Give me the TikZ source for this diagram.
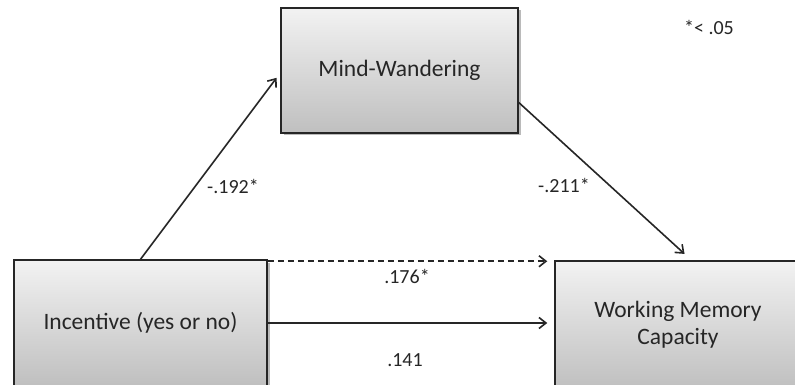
\documentclass[tikz,border=0pt]{standalone}
\usepackage{fontspec}
\setmainfont{Carlito}
\usetikzlibrary{arrows.meta,shadows}
\tikzset{
  box/.style={draw=black!85, line width=1.5pt, top color=gray!10, bottom color=gray!50,
    drop shadow={shadow xshift=2.5pt, shadow yshift=-2.5pt, opacity=0.45, fill=black!60},
    inner sep=0pt, align=center, text=black!85, font=\fontsize{23.5}{27}\selectfont},
  arr/.style={line width=1.6pt, draw=black!85, -{Straight Barb[length=7pt,width=11pt,line width=1.6pt]}},
  lab/.style={text=black!85, font=\fontsize{20}{24}\selectfont, inner sep=0pt}
}
\begin{document}
\begin{tikzpicture}[x=1pt,y=-1pt]
\clip (0,0) rectangle (795,385);
\fill[white] (0,0) rectangle (795,385);
\node[box, minimum width=237pt, minimum height=125pt] (mw) at (399.5,70.5) {Mind-Wandering};
\node[box, minimum width=253pt, minimum height=126pt] (inc) at (140.5,323) {Incentive (yes or no)};
\node[box, minimum width=246pt, minimum height=128pt] (wmc) at (678,325) {Working Memory\\Capacity};
\draw[arr, shorten >=6pt] (inc.north) -- ([yshift=-2.5pt]mw.west);
\draw[arr, shorten >=2pt] ([yshift=-32pt]mw.east) -- ([xshift=8pt,yshift=5pt]wmc.north);
\draw[arr, dash pattern=on 6pt off 4pt, shorten >=7pt] ([yshift=-2pt]inc.north east) -- ([yshift=-2pt]inc.north east -| wmc.west);
\draw[arr, shorten >=7pt] (inc.east) -- (inc.east -| wmc.west);
\node[lab] (l1) at (233,186) {-.192*};
\node[lab] (l2) at (564,185) {-.211*};
\node[lab] (l3) at (407,276) {.176*};
\node[lab] (l4) at (405,360) {.141};
\node[lab] (l5) at (709,27) {*< .05};
\end{tikzpicture}
\end{document}
